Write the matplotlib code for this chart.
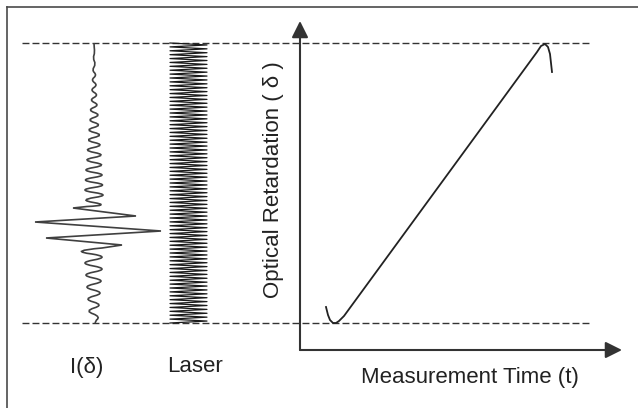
import numpy as np
import matplotlib
matplotlib.use("Agg")
import matplotlib.pyplot as plt
from matplotlib.path import Path
from matplotlib.patches import PathPatch

plt.rcParams['font.family'] = ['Liberation Sans', 'DejaVu Sans']

W, H = 638, 408

# interferogram I(delta): retardation (0 = start of scan, 280 = end) and intensity
ifg_delta = [280, 271, 265, 259, 253, 248, 243, 238, 233, 228, 223, 218, 213,
             208, 203, 198, 193, 188, 183, 178, 173, 168, 163, 158, 153, 148,
             143, 138, 133, 128, 123, 118, 115, 107, 101, 92, 85, 78, 72, 66,
             60, 54, 48, 42, 36, 30, 24, 18, 12, 6, 0]
ifg_int = [0, 0.5, -0.5, 1, -1, 1.5, -1.5, 2, -2, 2.5, -2.5, 3, -3.5, 4, -4,
           4.5, -5, 5.5, -5.5, 6, -6.5, 7, -7, 7.5, -8, 8, -8.5, 8.5, -9, 9,
           -8, 7, -21, 42, -59, 67, -48, 28, -12, 8, -9, 8, -8, 7, -7, 6,
           -6, 5, -5, 4, 1]

# reference laser: number of fringes over the scan
laser_fringes = 72

# retardation against measurement time
t_vals = [26, 28, 30, 33, 36, 39, 44, 237, 241, 245, 248, 250, 252]
d_vals = [16, 8, 3, 0, 0, 2, 7, 271, 277, 279, 276, 269, 251]

fig = plt.figure(figsize=(W / 100, H / 100), dpi=100)


def px_axes(x0, y0, x1, y1):
    a = fig.add_axes([x0 / W, 1 - y1 / H, (x1 - x0) / W, (y1 - y0) / H])
    a.set_axis_off()
    return a


def wave_path(xs, ys, sharp=15):
    # smooth bends for the small fringes, sharp corners in the centerburst
    p = np.column_stack([xs, ys]).astype(float)
    mids = (p[:-1] + p[1:]) / 2
    verts = [p[0], mids[0]]
    codes = [Path.MOVETO, Path.LINETO]
    for i in range(1, len(p) - 1):
        if abs(p[i, 0]) > sharp:
            verts += [p[i], mids[i]]
            codes += [Path.LINETO, Path.LINETO]
        else:
            ctrl = 2 * p[i] - (mids[i - 1] + mids[i]) / 2
            verts += [ctrl, mids[i]]
            codes += [Path.CURVE3, Path.CURVE3]
    verts.append(p[-1])
    codes.append(Path.LINETO)
    return Path(verts, codes)


# outer frame (left and top edges)
frame = fig.add_axes([7 / W, -0.01, 1 - 7 / W + 0.01, 1 - 7 / H + 0.01])
frame.set_xticks([])
frame.set_yticks([])
frame.patch.set_visible(False)
for s in ['right', 'bottom']:
    frame.spines[s].set_visible(False)
for s in ['left', 'top']:
    frame.spines[s].set_color('#4a4a4a')
    frame.spines[s].set_linewidth(1.2)

# dashed guides for scan start / end
guide = px_axes(22, 43, 590, 323)
guide.set_ylim(0, 280)
for d in [0, 280]:
    guide.axhline(d, color='#333333', lw=1.0, dashes=(5, 2.2), clip_on=False)

# interferogram
ax_i = px_axes(19, 43, 169, 323)
ax_i.set_xlim(-75, 75)
ax_i.set_ylim(0, 280)
ax_i.add_patch(PathPatch(wave_path(ifg_int, ifg_delta), fill=False,
                         edgecolor='#404040', lw=1.2, clip_on=False,
                         joinstyle='miter'))

# laser
ax_l = px_axes(170, 43, 207, 323)
ax_l.set_xlim(-1, 1)
ax_l.set_ylim(0, 280)
n = 2 * laser_fringes + 1
laser_x = np.tile([-1, 1], laser_fringes + 1)[:n]
laser_y = np.linspace(280, 0, n)
ax_l.plot(laser_x, laser_y, color='#1a1a1a', lw=0.9, clip_on=False)

# retardation vs time
ax = px_axes(300, 21, 622, 350)
ax.set_xlim(0, 322)
ax.set_ylim(-27, 302)
ax.plot(t_vals, d_vals, color='#222222', lw=1.3)
arrow = dict(arrowstyle='-|>,head_length=1.0,head_width=0.5', mutation_scale=10,
             lw=1.5, color='#333333', shrinkA=0, shrinkB=0)
ax.annotate('', xy=(1, 0), xytext=(0, 0), xycoords='axes fraction',
            arrowprops=arrow)
ax.annotate('', xy=(0, 1), xytext=(0, 0), xycoords='axes fraction',
            arrowprops=arrow)

txt = dict(fontsize=16, color='#222222', ha='center', va='center')
fig.text(470 / W, 1 - 378 / H, 'Measurement Time (t)', **txt)
fig.text(274 / W, 1 - 180 / H, 'Optical Retardation ( δ )', rotation=90, **txt)
fig.text(87 / W, 1 - 367 / H, 'I(δ)', **txt)
fig.text(195 / W, 1 - 367 / H, 'Laser', **txt)

fig.savefig('out.png', dpi=100)
